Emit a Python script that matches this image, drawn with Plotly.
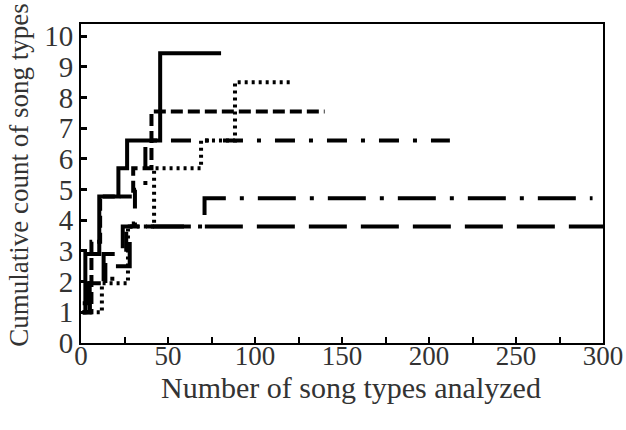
import plotly.graph_objects as go

# Step series (x = number of song types analyzed, y = cumulative count)
solid_x = [1, 2.5, 10.5, 21.5, 26.5, 45.5, 80.5]
solid_y = [1.0, 2.9, 4.78, 5.7, 6.6, 9.45, 9.45]

dash_x = [1, 6, 11, 30, 40.5, 140]
dash_y = [1.0, 3.3, 4.78, 5.7, 7.55, 7.55]

dot_x = [1, 12, 27, 42, 69, 88.5, 121]
dot_y = [1.0, 1.95, 3.8, 5.7, 6.6, 8.5, 8.5]

dashdot_x = [1, 5, 14, 26, 31, 37, 212]
dashdot_y = [1.0, 1.95, 2.9, 3.9, 5.0, 6.6, 6.6]

longdashdot_x = [1, 3, 18, 28, 71, 294]
longdashdot_y = [1.3, 1.95, 2.5, 3.8, 4.72, 4.72]

longdash_x = [1, 5, 13, 24, 300]
longdash_y = [1.0, 1.95, 2.9, 3.8, 3.8]

x_ticks = [0, 50, 100, 150, 200, 250, 300]
y_ticks = [0, 1, 2, 3, 4, 5, 6, 7, 8, 9, 10]
x_title = "Number of song types analyzed"
y_title = "Cumulative count of song types"

series = [
    (longdash_x, longdash_y, "38px,14px"),
    (longdashdot_x, longdashdot_y, "38px,14px,4px,14px"),
    (dashdot_x, dashdot_y, "20px,14px,4px,14px"),
    (dot_x, dot_y, "3px,4px"),
    (dash_x, dash_y, "12px,5px"),
    (solid_x, solid_y, "solid"),
]

fig = go.Figure()
for xs, ys, dash in series:
    fig.add_trace(go.Scatter(
        x=xs, y=ys, mode="lines", line_shape="hv",
        line=dict(color="black", width=4, dash=dash),
        showlegend=False, hoverinfo="skip",
    ))

font_family = "Liberation Serif"
text_color = "#333333"
fig.update_layout(
    width=626, height=430,
    margin=dict(l=81, r=23, t=24, b=87),
    paper_bgcolor="white", plot_bgcolor="white",
    font=dict(family=font_family, color=text_color, size=28),
)
fig.update_xaxes(
    range=[0, 300], tickvals=x_ticks, ticks="inside", ticklen=6, tickwidth=2,
    tickcolor="black", showgrid=False, zeroline=False, automargin=False,
    showline=True, linecolor="black", linewidth=2, mirror=True,
    minor=dict(ticks="inside", dtick=25, ticklen=6, tickwidth=2, tickcolor="black", showgrid=False),
    tickfont=dict(size=27), ticklabelstandoff=-12,
)
fig.update_yaxes(
    range=[0, 10.4], tickvals=y_ticks, ticks="inside", ticklen=6, tickwidth=3,
    tickcolor="black", showgrid=False, zeroline=False, automargin=False,
    showline=True, linecolor="black", linewidth=2, mirror=True,
    tickfont=dict(size=29),
)
fig.add_annotation(
    text=x_title, xref="paper", yref="paper", x=0.517, y=-0.138,
    xanchor="center", yanchor="middle", showarrow=False,
    font=dict(size=30, family=font_family, color=text_color),
)
fig.add_annotation(
    text=y_title, xref="paper", yref="paper", x=-0.119, y=0.527,
    xanchor="center", yanchor="middle", showarrow=False, textangle=-90,
    font=dict(size=27, family=font_family, color=text_color),
)

fig.write_html(
    "out.html",
    config={"displayModeBar": False},
    post_script="document.body.style.margin='0';",
)
